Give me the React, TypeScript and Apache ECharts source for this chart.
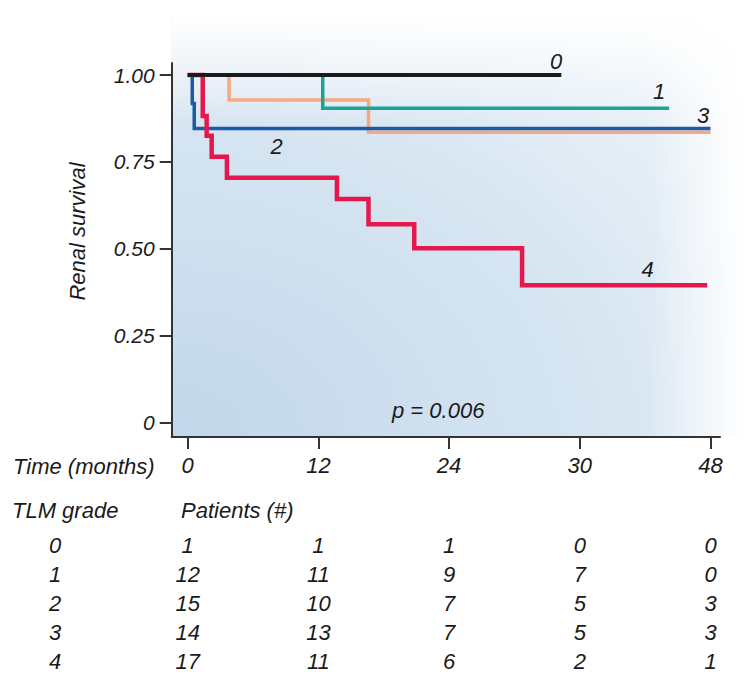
import React, { useEffect, useRef } from "react";
import * as echarts from "echarts";

// ---- data ----
const xTickValues = [0, 12, 24, 36, 48];
const xTickLabels = ["0", "12", "24", "30", "48"];
const yTickValues = [0, 0.25, 0.5, 0.75, 1];
const yTickLabels = ["0", "0.25", "0.50", "0.75", "1.00"];

const grades = ["0", "1", "2", "3", "4"];

// Kaplan-Meier curves: [time (months), survival]
const grade0Curve = [[0, 1], [34.3, 1]];
const grade1Curve = [[0, 1], [12.4, 0.904], [44.2, 0.904]];
const grade2Curve = [[0, 1], [0.42, 0.918], [0.6, 0.846], [48, 0.846]];
const grade3Curve = [[0, 1], [3.8, 0.928], [16.6, 0.835], [48, 0.835]];
const grade4Curve = [
  [0, 1], [1.38, 0.882], [1.74, 0.825], [2.2, 0.765], [3.6, 0.704],
  [13.7, 0.643], [16.6, 0.57], [20.8, 0.501], [30.7, 0.395], [47.7, 0.395],
];

// Patients at risk
const patientTimes = [0, 12, 24, 36, 48];
const patientsGrade0 = [1, 1, 1, 0, 0];
const patientsGrade1 = [12, 11, 9, 7, 0];
const patientsGrade2 = [15, 10, 7, 5, 3];
const patientsGrade3 = [14, 13, 7, 5, 3];
const patientsGrade4 = [17, 11, 6, 2, 1];

const pValueText = "p = 0.006";

// ---- layout / style ----
const FONT = "'Liberation Sans', Arial, Helvetica, sans-serif";
const TEXT_COLOR = "#1a1a1a";
const AXIS_COLOR = "#333333";
const X_MIN = -1.469;
const X_MAX = 48.872;
const Y_MIN = -0.0423;
const Y_MAX = 1.0346;

const curveStyles = [
  { curve: grade0Curve, color: "#1b1b1b", width: 4, z: 7 },
  { curve: grade1Curve, color: "#19a495", width: 3.5, z: 5 },
  { curve: grade2Curve, color: "#1a5aa6", width: 3.5, z: 4 },
  { curve: grade3Curve, color: "#f5a983", width: 3.5, z: 3 },
  { curve: grade4Curve, color: "#e4184c", width: 4.5, z: 6 },
];

const curveLabelPos: [number, number][] = [
  [556, 61.5],
  [659, 91],
  [276.5, 146],
  [703, 115],
  [647.5, 269],
];

function txt(text: string, x: number, y: number, align: string = "left", extra: any = {}) {
  return {
    type: "text",
    x,
    y,
    silent: true,
    ...extra,
    style: {
      text,
      fill: TEXT_COLOR,
      font: `italic 22px ${FONT}`,
      align,
      verticalAlign: "middle",
    },
  };
}

export default function App() {
  const ref = useRef<HTMLDivElement>(null);

  useEffect(() => {
    if (!ref.current) return;
    const chart = echarts.init(ref.current, undefined, { renderer: "svg" });

    const patientsByGrade = [patientsGrade0, patientsGrade1, patientsGrade2, patientsGrade3, patientsGrade4];
    const tableData: any[] = [];
    patientsByGrade.forEach((row, gi) => {
      row.forEach((n, ti) => tableData.push([patientTimes[ti], grades[gi], n]));
    });

    const textStyle = { fontFamily: FONT, fontStyle: "italic", color: TEXT_COLOR, fontSize: 22 };

    const option: any = {
      animation: false,
      backgroundColor: "#ffffff",
      grid: [
        { left: 171.7, right: 31, top: 63, bottom: 248 },
        { left: 171.7, right: 31, top: 530.5, height: 145.5 },
      ],
      xAxis: [
        {
          type: "value",
          gridIndex: 0,
          min: X_MIN,
          max: X_MAX,
          splitLine: { show: false },
          axisLine: { show: true, onZero: false, lineStyle: { color: AXIS_COLOR, width: 2 } },
          axisTick: {
            show: true,
            customValues: xTickValues,
            length: 12,
            inside: false,
            lineStyle: { color: AXIS_COLOR, width: 2 },
          },
          axisLabel: {
            customValues: xTickValues,
            margin: 17,
            ...textStyle,
            formatter: (v: number) => xTickLabels[xTickValues.indexOf(v)] ?? "",
          },
        },
        {
          type: "value",
          gridIndex: 1,
          min: X_MIN,
          max: X_MAX,
          show: false,
        },
      ],
      yAxis: [
        {
          type: "value",
          gridIndex: 0,
          min: Y_MIN,
          max: Y_MAX,
          splitLine: { show: false },
          axisLine: { show: true, onZero: false, lineStyle: { color: AXIS_COLOR, width: 2 } },
          axisTick: {
            show: true,
            customValues: yTickValues,
            length: 12,
            lineStyle: { color: AXIS_COLOR, width: 2 },
          },
          axisLabel: {
            customValues: yTickValues,
            margin: 17,
            ...textStyle,
            fontSize: 21,
            formatter: (v: number) => yTickLabels[yTickValues.indexOf(v)] ?? "",
          },
        },
        {
          type: "category",
          gridIndex: 1,
          data: grades,
          inverse: true,
          axisLine: { show: false },
          axisTick: { show: false },
          splitLine: { show: false },
          axisLabel: { margin: 116.7, align: "center", ...textStyle },
        },
      ],
      series: [
        ...curveStyles.map((c, i) => ({
          name: "TLM grade " + grades[i],
          type: "line",
          xAxisIndex: 0,
          yAxisIndex: 0,
          step: "end",
          data: c.curve,
          symbol: "none",
          silent: true,
          z: c.z,
          lineStyle: { color: c.color, width: c.width, cap: "butt", join: "miter" },
        })),
        {
          type: "scatter",
          xAxisIndex: 1,
          yAxisIndex: 1,
          data: tableData,
          symbol: "rect",
          symbolSize: 0.5,
          silent: true,
          itemStyle: { color: "#ffffff", opacity: 1 },
          label: {
            show: true,
            position: "inside",
            ...textStyle,
            opacity: 1,
            textBorderWidth: 0,
            formatter: (p: any) => String(p.value[2]),
          },
        },
      ],
      graphic: {
        elements: [
          {
            type: "rect",
            z: -10,
            silent: true,
            shape: { x: 171.7, y: 14, width: 573, height: 423 },
            style: {
              fill: new echarts.graphic.RadialGradient(0, 1, 1.55, [
                { offset: 0, color: "#c2d7ea" },
                { offset: 0.45, color: "#d5e4f1" },
                { offset: 0.75, color: "#e9f1f8" },
                { offset: 1, color: "#ffffff" },
              ]),
            },
          },
          {
            type: "rect",
            z: -9,
            silent: true,
            shape: { x: 171.7, y: 14, width: 573, height: 110 },
            style: {
              fill: new echarts.graphic.LinearGradient(0, 0, 0, 1, [
                { offset: 0, color: "rgba(255,255,255,1)" },
                { offset: 1, color: "rgba(255,255,255,0)" },
              ]),
            },
          },
          {
            type: "rect",
            z: -9,
            silent: true,
            shape: { x: 650, y: 14, width: 95, height: 423 },
            style: {
              fill: new echarts.graphic.LinearGradient(0, 0, 1, 0, [
                { offset: 0, color: "rgba(255,255,255,0)" },
                { offset: 1, color: "rgba(255,255,255,1)" },
              ]),
            },
          },
          ...grades.map((g, i) => txt(g, curveLabelPos[i][0], curveLabelPos[i][1], "center")),
          txt(pValueText, 392, 410),
          txt("Renal survival", 77, 231.5, "center", { rotation: Math.PI / 2 }),
          txt("Time (months)", 13, 466),
          txt("TLM grade", 12, 510),
          txt("Patients (#)", 181, 510),
        ],
      },
    };

    chart.setOption(option);
    return () => chart.dispose();
  }, []);

  return (
    <div
      ref={ref}
      style={{ position: "fixed", left: 0, top: 0, width: 751, height: 685 }}
    />
  );
}
